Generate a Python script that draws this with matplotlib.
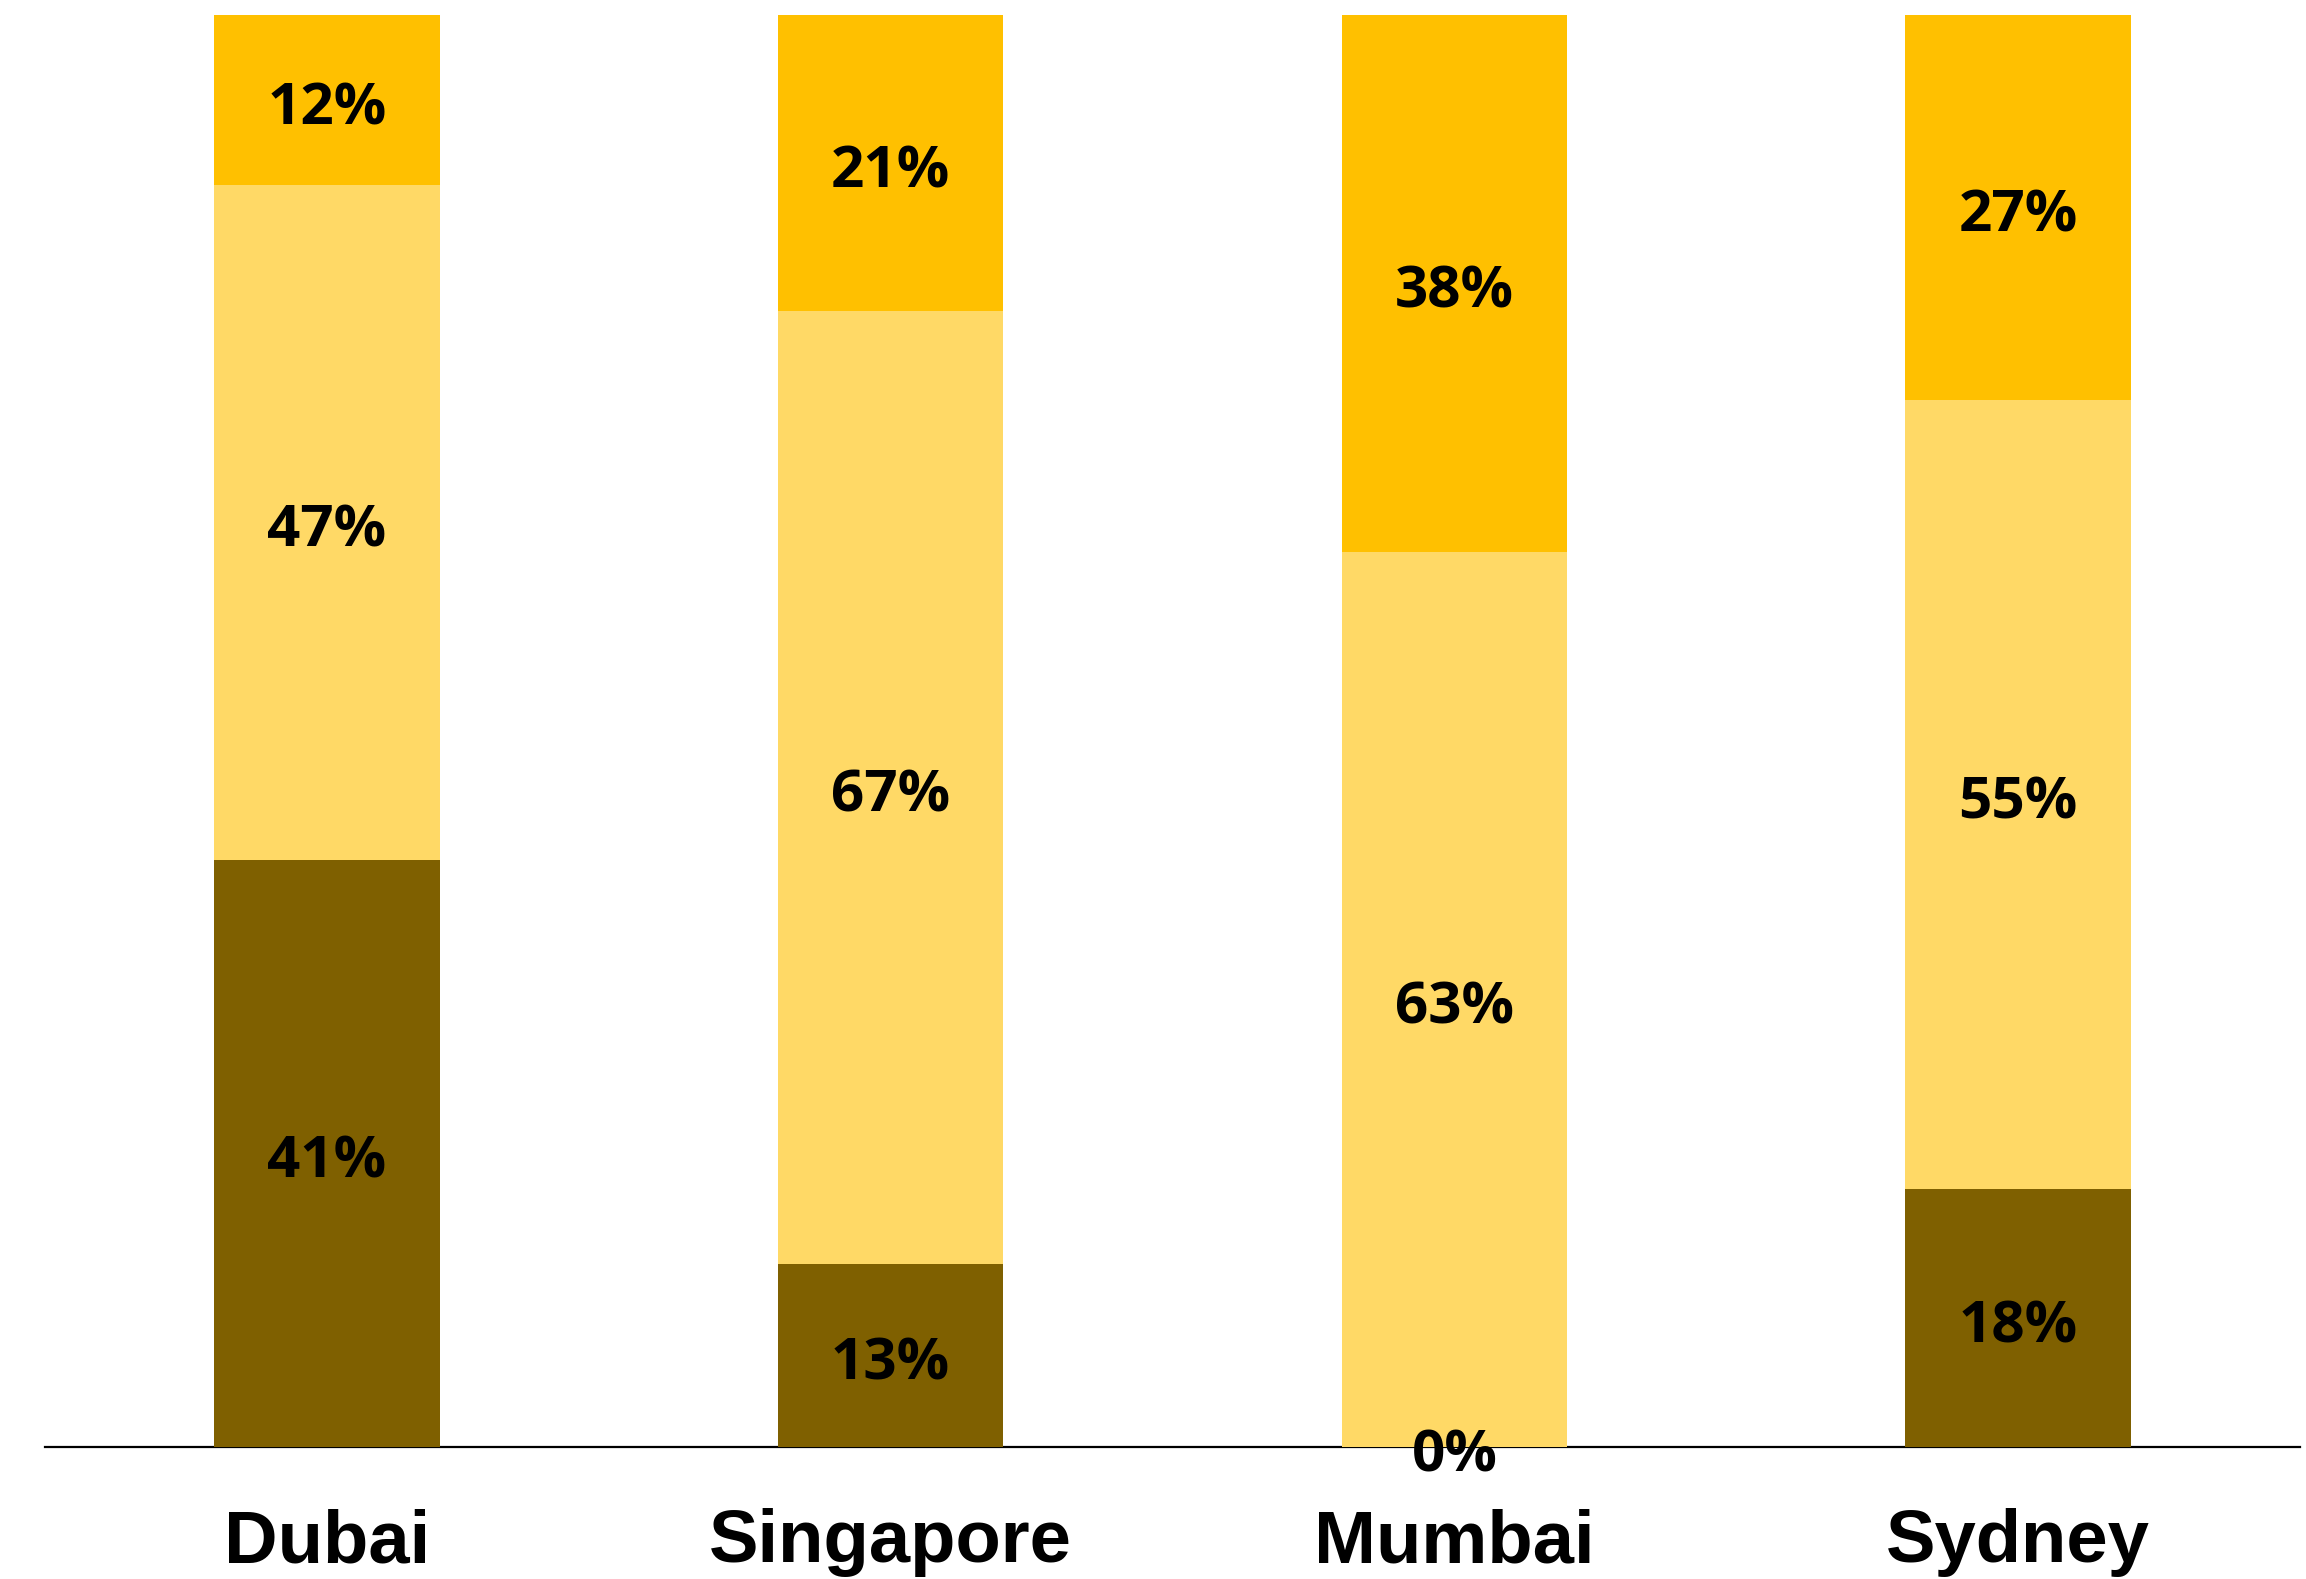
import matplotlib
matplotlib.use("Agg")
import matplotlib.pyplot as plt

cities = ["Dubai", "Singapore", "Mumbai", "Sydney"]
# share of responses per city (%), stacked bottom to top
low = [41.0, 12.8, 0.0, 18.0]
mid = [47.1, 66.5, 62.5, 55.1]
high = [11.9, 20.7, 37.5, 26.9]

colors = ["#7F6000", "#FFD966", "#FFC000"]


def pct(v):
    # round half up, like a spreadsheet does
    return f"{int(v + 0.5)}%"


fig = plt.figure(figsize=(23.06, 15.79), dpi=100)
ax = fig.add_axes([0.0195, 0.0836, 0.9779, 0.9069])

x = range(len(cities))
bottom = [0.0] * len(cities)
for vals, c in zip([low, mid, high], colors):
    bars = ax.bar(x, vals, width=0.4, bottom=bottom, color=c, linewidth=0)
    texts = ax.bar_label(bars, labels=[pct(v) for v in vals], label_type="center",
                         fontsize=42, fontweight="bold", family="Open Sans", color="black")
    for t in texts:
        t.xyann = (0, -6.5)
    bottom = [b + v for b, v in zip(bottom, vals)]

ax.set_xlim(-0.5, 3.5)
ax.set_ylim(0, 100)
ax.set_yticks([])
ax.set_xticks(list(x))
ax.set_xticklabels(cities, fontsize=53.5, fontweight="bold", family="Liberation Sans")
ax.tick_params(axis="x", length=0, pad=44)
for side in ["left", "right", "top"]:
    ax.spines[side].set_visible(False)
ax.spines["bottom"].set_linewidth(1.6)
ax.spines["bottom"].set_zorder(0.5)

fig.savefig("out.png", dpi=100)
